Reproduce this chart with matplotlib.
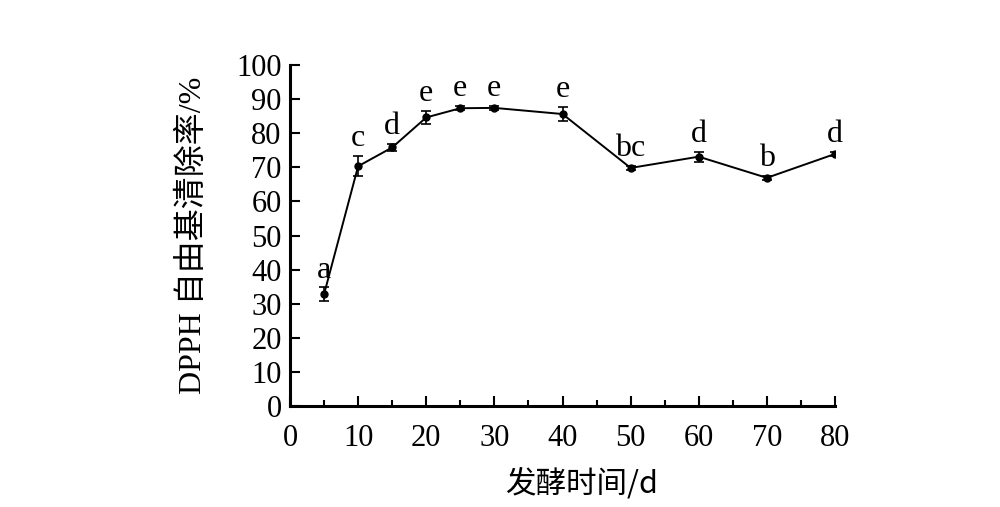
import numpy as np
import matplotlib.pyplot as plt

# fermentation time (d) vs DPPH scavenging rate (%)
days = [5, 10, 15, 20, 25, 30, 40, 50, 60, 70, 80]
scavenging = [32.8, 70.3, 75.8, 84.6, 87.3, 87.4, 85.6, 69.8, 73.1, 66.9, 73.9]
errors = [2.0, 3.0, 1.0, 2.0, 0.6, 0.6, 2.0, 0.6, 1.5, 0.6, 0.7]
letters = ['a', 'c', 'd', 'e', 'e', 'e', 'e', 'bc', 'd', 'b', 'd']

serif = ['Liberation Serif', 'Noto Sans CJK SC']
cjk = ['Noto Sans CJK SC', 'Liberation Serif']
plt.rcParams['font.family'] = serif

fig = plt.figure(figsize=(10, 5.07), dpi=100)
ax = fig.add_axes([0.29, 0.199, 0.545, 0.673])

ax.errorbar(days, scavenging, yerr=errors, color='black', lw=1.4,
            marker='o', ms=5, capsize=3.5, elinewidth=1.2, capthick=1.2)

for x, y, e, lab in zip(days, scavenging, errors, letters):
    ax.annotate(lab, (x, y + e), xytext=(0, 7), textcoords='offset points',
                ha='center', va='baseline', fontsize=23)

ax.set_xlim(0, 80)
ax.set_ylim(0, 100)
ax.set_xticks(np.arange(0, 81, 10))
ax.set_xticks(np.arange(5, 80, 10), minor=True)
ax.set_yticks(np.arange(0, 101, 10))

ax.spines['top'].set_visible(False)
ax.spines['right'].set_visible(False)
for s in ['left', 'bottom']:
    ax.spines[s].set_linewidth(2.2)

ax.tick_params(axis='both', which='major', direction='in', length=7, width=1.5,
               labelsize=22, pad=6)
ax.tick_params(axis='x', which='minor', direction='in', length=4, width=1.5)
ax.tick_params(axis='x', which='major', pad=13)

ax.set_xlabel('发酵时间/d', family=cjk, fontsize=22)
ax.xaxis.set_label_coords(0.534, -0.182)
ax.set_ylabel('DPPH 自由基清除率/%', family=serif, fontsize=23, labelpad=20)

fig.savefig('out.png', dpi=100)
